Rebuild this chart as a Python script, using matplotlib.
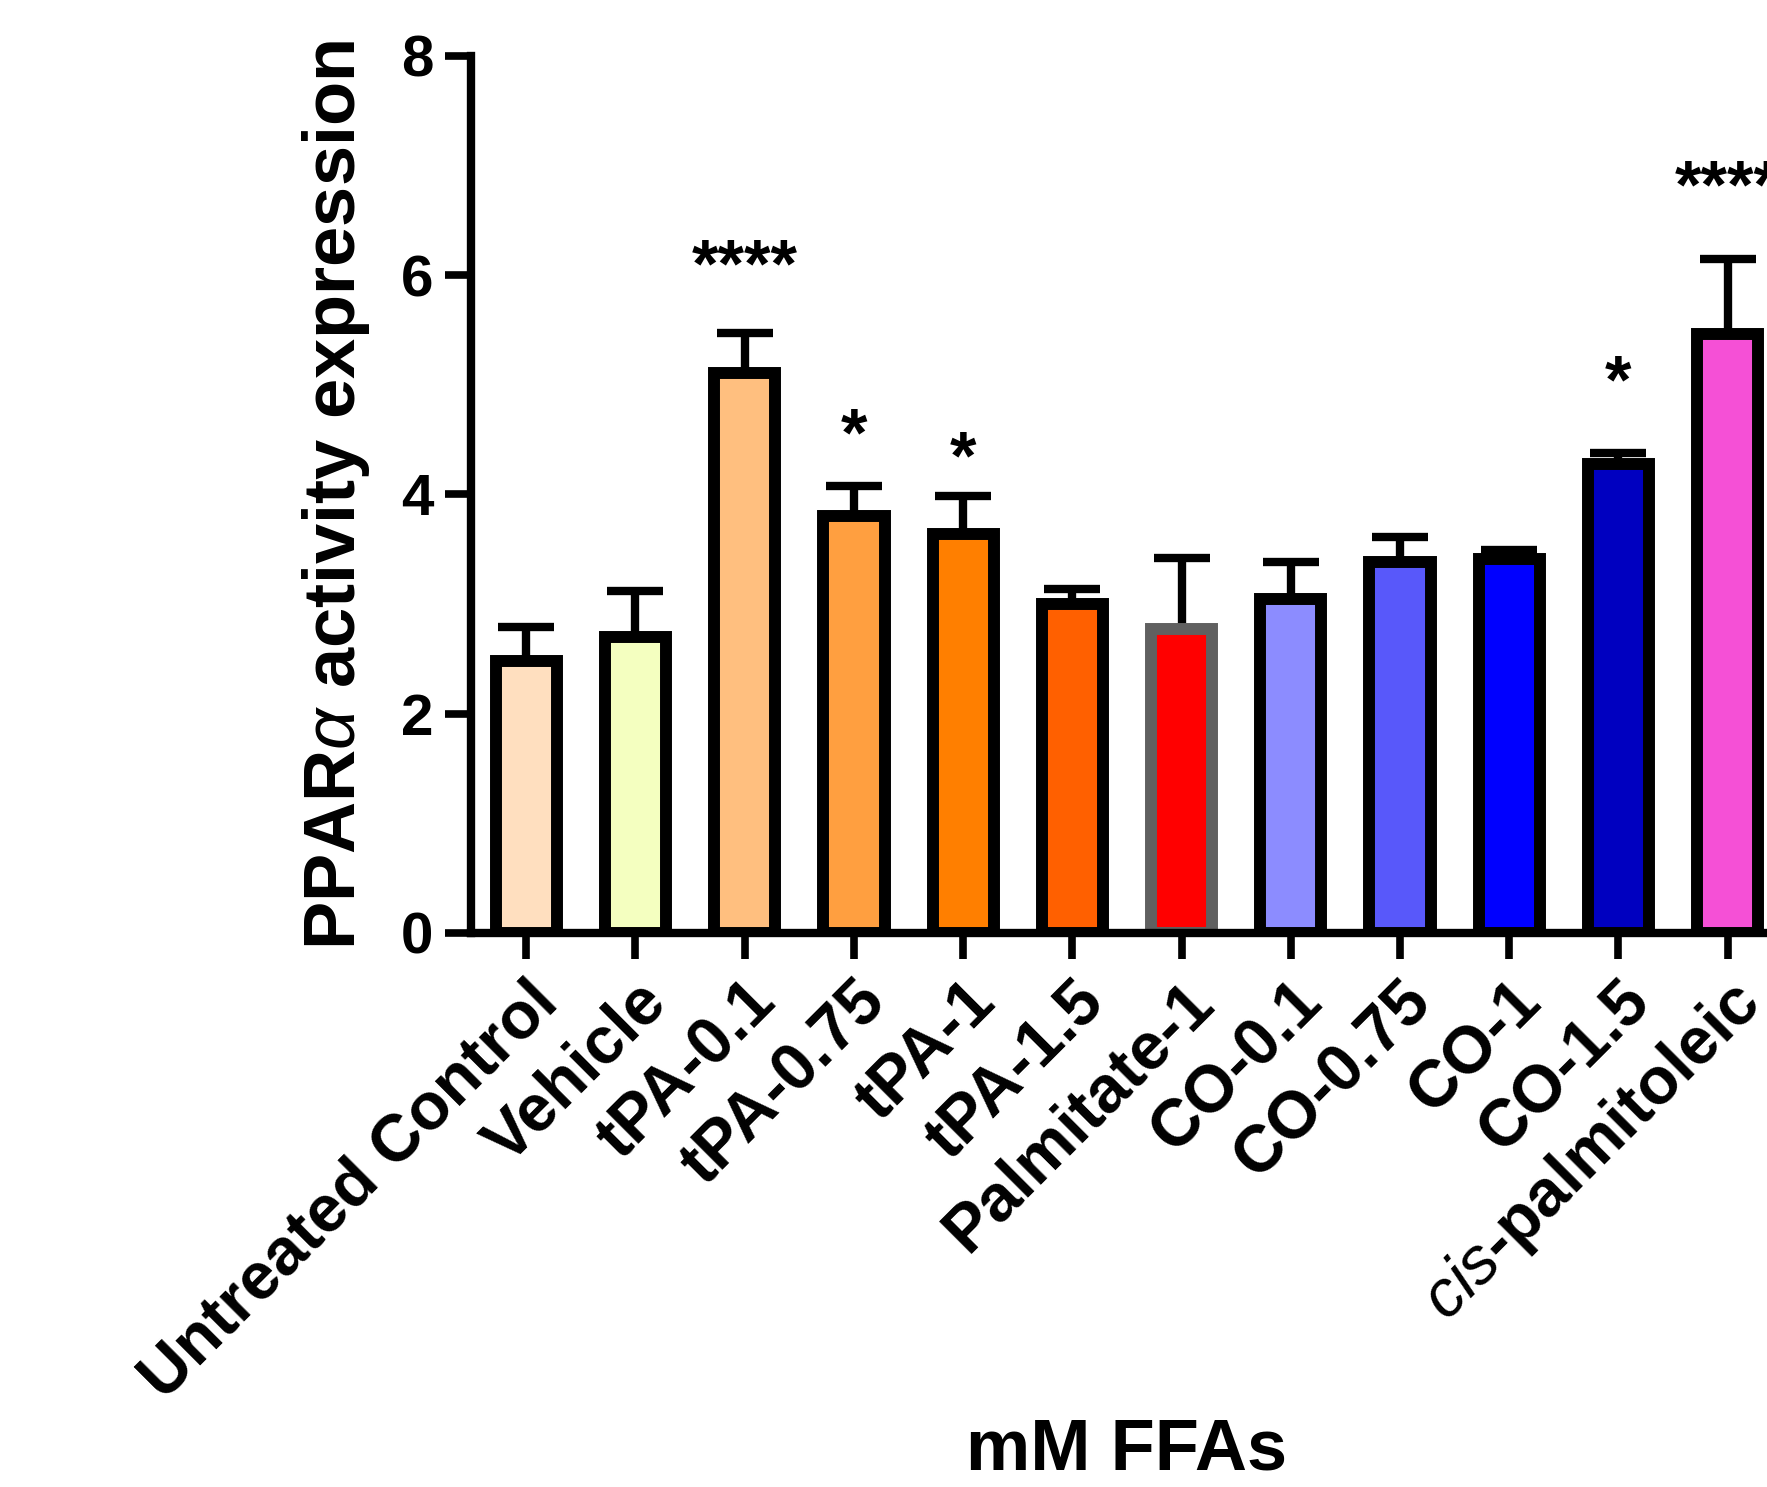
import matplotlib

matplotlib.use("Agg")
import matplotlib.pyplot as plt
import matplotlib.transforms as mtransforms
import numpy as np

plt.rcParams["font.family"] = ["Liberation Sans", "DejaVu Sans"]
plt.rcParams["mathtext.fontset"] = "custom"
plt.rcParams["mathtext.it"] = "Liberation Sans:italic"
plt.rcParams["mathtext.rm"] = "Liberation Sans"

labels = ["Untreated Control", "Vehicle", "tPA-0.1", "tPA-0.75", "tPA-1",
          "tPA-1.5", "Palmitate-1", "CO-0.1", "CO-0.75", "CO-1", "CO-1.5",
          r"$\it{cis}$-palmitoleic"]
means = [2.48, 2.70, 5.11, 3.80, 3.64, 3.00, 2.77, 3.05, 3.38, 3.41, 4.28, 5.46]
upper = [2.79, 3.12, 5.47, 4.08, 3.99, 3.14, 3.42, 3.38, 3.61, 3.49, 4.38, 6.15]
stars = ["", "", "****", "*", "*", "", "", "", "", "", "*", "****"]
star_y = [0, 0, 6.06, 4.52, 4.31, 0, 0, 0, 0, 0, 5.0, 6.78]
faces = ["#FFDFBF", "#F4FFC0", "#FFBF7F", "#FF9F40", "#FF7F00", "#FF6000",
         "#FF0000", "#8C8CFF", "#5858FA", "#0000FF", "#0000C0", "#F550D6"]
edges = ["black"] * 12
edges[6] = "#606060"

W, H = 1767, 1487
fig = plt.figure(figsize=(W / 100, H / 100), dpi=100)
ax = fig.add_axes([471 / W, (H - 933) / H, 1 - 471 / W, 877 / H])

x = np.arange(len(labels))
err = np.array(upper) - np.array(means)
ax.errorbar(x, means, yerr=[np.zeros_like(err), err], fmt="none",
            ecolor="black", elinewidth=6, capsize=20, capthick=6, zorder=1)
ax.bar(x, means, width=0.56, color=faces, edgecolor=edges, linewidth=8.6,
       zorder=2)

for xi, s, sy in zip(x, stars, star_y):
    if s:
        ax.text(xi, sy, s, ha="center", va="center", fontsize=49,
                fontweight="bold")

ax.set_xlim(-0.506, 11.36)
ax.set_ylim(0, 8)
ax.set_yticks([0, 2, 4, 6, 8])
ax.set_xticks(x)
ax.set_xticklabels(labels, rotation=45, ha="right", rotation_mode="anchor",
                   fontsize=47.5, fontweight="bold")
shift = mtransforms.ScaledTranslation(20 / 100, -6 / 100, fig.dpi_scale_trans)
for lab in ax.get_xticklabels():
    lab.set_transform(lab.get_transform() + shift)
for lab in ax.get_yticklabels():
    lab.set_fontsize(42)
    lab.set_fontweight("bold")

ax.spines["top"].set_visible(False)
ax.spines["right"].set_visible(False)
ax.spines["left"].set_linewidth(6)
ax.spines["bottom"].set_linewidth(6)
ax.tick_params(axis="both", width=5.5, length=19, pad=8)

ax.set_ylabel(r"PPAR$\alpha$ activity expression", fontsize=52,
              fontweight="bold")
ax.yaxis.set_label_coords(-0.104, 0.5)
ax.yaxis.label.set_va("center")
ax.set_xlabel("mM FFAs", fontsize=52, fontweight="bold")
ax.xaxis.set_label_coords(0.506, -0.59)
ax.xaxis.label.set_va("center")

fig.savefig("out.png", dpi=100)
